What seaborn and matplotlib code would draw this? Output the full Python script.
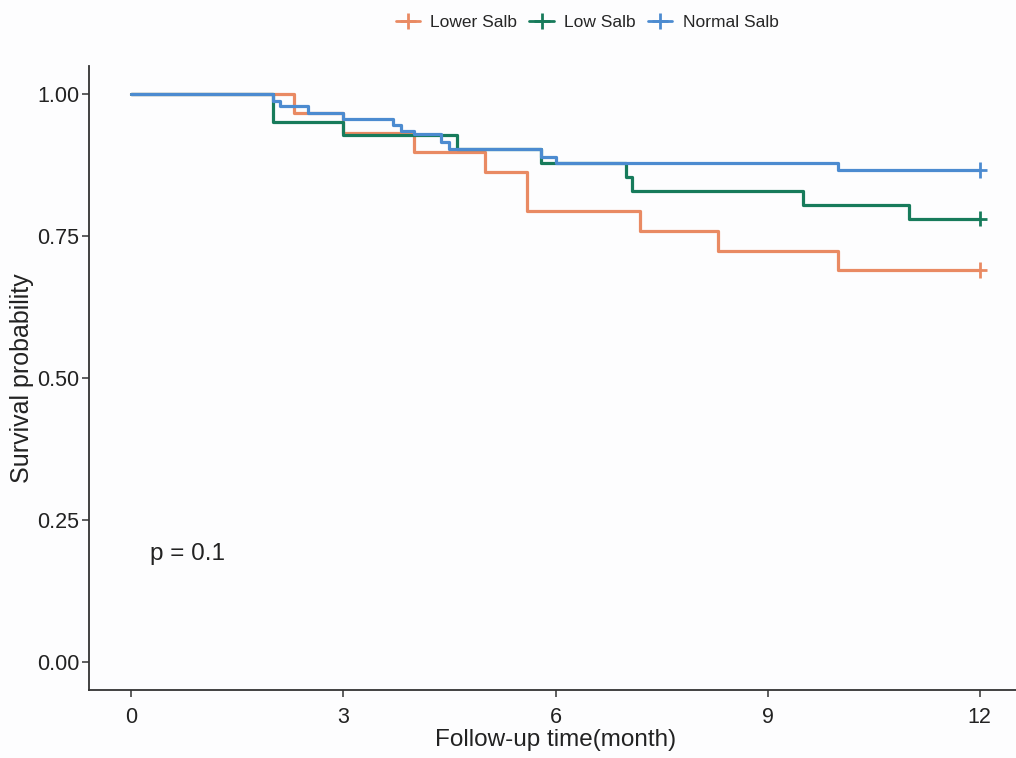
import matplotlib
matplotlib.use("Agg")
import matplotlib.pyplot as plt
from matplotlib.lines import Line2D
import seaborn as sns
import pandas as pd

groups = ["Lower Salb", "Low Salb", "Normal Salb"]
colors = ["#E98A63", "#177B5B", "#4C8BD0"]

lower_t = [0, 2.3, 3.0, 4.0, 5.0, 5.6, 7.2, 8.3, 10.0, 12.0]
lower_s = [1.0, 0.966, 0.931, 0.897, 0.862, 0.793, 0.759, 0.724, 0.690, 0.690]

low_t = [0, 2.0, 3.0, 4.6, 5.8, 7.0, 7.08, 9.5, 11.0, 12.0]
low_s = [1.0, 0.951, 0.927, 0.903, 0.878, 0.853, 0.829, 0.805, 0.780, 0.780]

normal_t = [0, 2.0, 2.1, 2.5, 3.0, 3.7, 3.82, 4.0, 4.38, 4.5, 5.8, 6.0, 10.0, 12.0]
normal_s = [1.0, 0.987, 0.979, 0.966, 0.956, 0.945, 0.935, 0.929, 0.915, 0.903, 0.889, 0.878, 0.866, 0.866]

x_ticks = [0, 3, 6, 9, 12]
y_ticks = [0.0, 0.25, 0.5, 0.75, 1.0]
y_tick_labels = ["0.00", "0.25", "0.50", "0.75", "1.00"]
p_text = "p = 0.1"

frames = []
for g, t, s in zip(groups, [lower_t, low_t, normal_t], [lower_s, low_s, normal_s]):
    frames.append(pd.DataFrame({"time": t, "surv": s, "group": g}))
df = pd.concat(frames, ignore_index=True)
cens = df.groupby("group", sort=False).tail(1)

sns.set_style("white")
plt.rcParams["font.family"] = ["Liberation Sans", "DejaVu Sans"]

fig = plt.figure(figsize=(10.16, 7.58), dpi=100)
fig.patch.set_facecolor("#fdfdfe")
ax = fig.add_axes([89 / 1016, 68 / 758, (1022 - 89) / 1016, (690 - 65.6) / 758])
ax.set_facecolor("#fdfdfe")

palette = dict(zip(groups, colors))
sns.lineplot(data=df, x="time", y="surv", hue="group", hue_order=groups,
             palette=palette, drawstyle="steps-post", estimator=None,
             linewidth=2.3, ax=ax, legend=False)
sns.scatterplot(data=cens, x="time", y="surv", hue="group", hue_order=groups,
                palette=palette, marker="+", s=120, linewidth=2.0, ax=ax,
                legend=False)

ax.set_xlim(-0.6, 12.6)
ax.set_ylim(-0.05, 1.05)
ax.set_xticks(x_ticks)
ax.set_xticklabels([str(v) for v in x_ticks])
ax.set_yticks(y_ticks)
ax.set_yticklabels(y_tick_labels)
ax.tick_params(axis="both", labelsize=15.5, colors="#333333", length=5, width=1.1,
               direction="out", bottom=True, left=True)
ax.tick_params(axis="x", pad=7)
ax.tick_params(axis="y", pad=2)
for lab in ax.get_xticklabels() + ax.get_yticklabels():
    lab.set_color("#222222")

for side in ["top", "right"]:
    ax.spines[side].set_visible(False)
for side in ["left", "bottom"]:
    ax.spines[side].set_color("#333333")
    ax.spines[side].set_linewidth(1.3)

ax.set_xlabel("Follow-up time(month)", fontsize=17.5, color="#222222", labelpad=1)
ax.set_ylabel("Survival probability", fontsize=18, color="#222222", labelpad=2)

ax.text(0.27, 0.19, p_text, fontsize=17.5, color="#222222", va="center", ha="left")

handles = [Line2D([0], [0], color=c, lw=2, marker="+", markersize=12, markeredgewidth=2)
           for c in colors]
fig.legend(handles, groups, loc="center", bbox_to_anchor=(587 / 1016, 1 - 22 / 758),
           ncol=3, frameon=False, fontsize=12.5, handlelength=1.4, handletextpad=0.6,
           columnspacing=0.7)

fig.savefig("out.png", dpi=100, facecolor=fig.get_facecolor())
